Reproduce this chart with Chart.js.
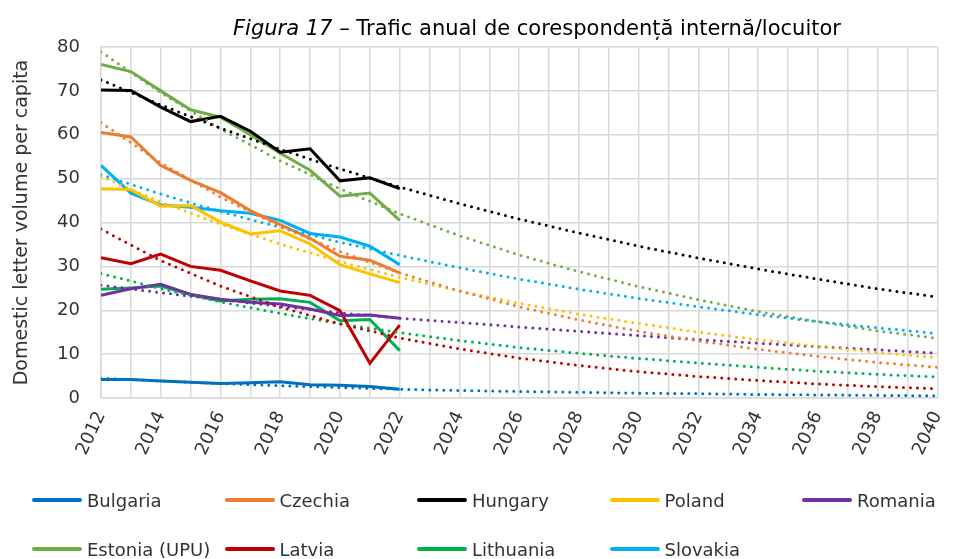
<!DOCTYPE html>
<html>
<head>
<meta charset="utf-8">
<script src="https://cdn.jsdelivr.net/npm/chart.js@4.4.1/dist/chart.umd.min.js"></script>
<style>
    body { margin: 0; background: #fff; }
    #wrap { position: relative; width: 967px; height: 559px; font-family: 'DejaVu Sans', sans-serif; }
    #title { position: absolute; top: 16px; left: 107px; right: 0; text-align: center; font-size: 21px; color: #000; white-space: nowrap; }
    #title i { font-style: italic; }
    #legend { position: absolute; left: 32px; top: 488px; display: grid; grid-template-columns: repeat(5, 192.5px); row-gap: 25px; }
    .item { display: flex; align-items: center; height: 24px; font-size: 18px; color: #333; white-space: nowrap; }
    .item span.swatch { display: inline-block; width: 50px; height: 4px; border-radius: 2px; margin-right: 5px; }
</style>
</head>
<body>
<div id="wrap">
    <canvas id="chart" width="967" height="559"></canvas>
    <div id="title"><i>Figura 17</i> – Trafic anual de corespondență internă/locuitor</div>
    <div id="legend"></div>
</div>
<script>
const years = [2012, 2013, 2014, 2015, 2016, 2017, 2018, 2019, 2020, 2021, 2022];
const trendYears = [2012, 2014, 2016, 2018, 2020, 2022, 2024, 2026, 2028, 2030, 2032, 2034, 2036, 2038, 2040];
const xTickLabels = ['2012', '2014', '2016', '2018', '2020', '2022', '2024', '2026', '2028', '2030', '2032', '2034', '2036', '2038', '2040'];
const yTicks = [0, 10, 20, 30, 40, 50, 60, 70, 80];

const countries = ['Bulgaria', 'Czechia', 'Hungary', 'Poland', 'Romania', 'Estonia (UPU)', 'Latvia', 'Lithuania', 'Slovakia'];
const colors = ['#0070C0', '#ED7D31', '#000000', '#FFC000', '#7030A0', '#70AD47', '#C00000', '#00B050', '#00B0F0'];

const bulgaria  = [4.2, 4.2, 3.9, 3.6, 3.3, 3.5, 3.7, 3.0, 2.9, 2.6, 2.0];
const czechia   = [60.5, 59.5, 53.0, 49.6, 46.8, 42.7, 39.5, 36.4, 32.3, 31.4, 28.5];
const hungary   = [70.2, 70.1, 66.3, 63.0, 64.2, 60.8, 56.0, 56.8, 49.5, 50.2, 47.7];
const poland    = [47.7, 47.5, 43.7, 43.9, 40.1, 37.4, 38.1, 35.1, 30.4, 28.3, 26.3];
const romania   = [23.4, 24.9, 25.9, 23.6, 22.5, 21.8, 21.4, 20.3, 18.8, 18.9, 18.2];
const estonia   = [76.0, 74.4, 70.0, 65.7, 64.0, 60.0, 55.8, 51.9, 46.0, 46.7, 40.5];
const latvia    = [32.0, 30.6, 32.8, 30.0, 29.1, 26.7, 24.4, 23.4, 19.9, 7.9, 16.6];
const lithuania = [24.8, 25.1, 25.5, 23.6, 22.1, 22.5, 22.6, 21.8, 17.6, 17.9, 10.8];
const slovakia  = [53.0, 46.7, 44.0, 43.5, 42.7, 42.1, 40.5, 37.5, 36.7, 34.6, 30.4];

// dotted trend lines, read every two years
const bulgariaTrend  = [4.5, 3.9, 3.3, 2.8, 2.4, 2.0, 1.7, 1.5, 1.3, 1.1, 1.0, 0.8, 0.7, 0.6, 0.5];
const czechiaTrend   = [62.8, 53.6, 45.8, 39.1, 33.4, 28.5, 24.4, 20.8, 17.8, 15.2, 13.0, 11.1, 9.5, 8.1, 7.0];
const hungaryTrend   = [72.5, 66.8, 61.5, 56.7, 52.2, 48.1, 44.3, 40.8, 37.6, 34.6, 31.9, 29.4, 27.1, 24.9, 23.0];
const polandTrend    = [50.5, 44.7, 39.6, 35.1, 31.1, 27.5, 24.4, 21.6, 19.1, 17.0, 15.0, 13.3, 11.8, 10.4, 9.2];
const romaniaTrend   = [25.7, 24.0, 22.4, 20.9, 19.4, 18.2, 17.2, 16.2, 15.2, 14.2, 13.3, 12.5, 11.7, 11.0, 10.2];
const estoniaTrend   = [78.9, 69.6, 61.3, 54.1, 47.7, 42.0, 37.0, 32.6, 28.8, 25.4, 22.4, 19.7, 17.4, 15.3, 13.6];
const latviaTrend    = [38.5, 31.3, 25.5, 20.7, 16.9, 13.7, 11.2, 9.1, 7.4, 6.0, 4.9, 4.0, 3.2, 2.6, 2.1];
const lithuaniaTrend = [28.4, 24.9, 21.9, 19.3, 16.9, 14.9, 13.1, 11.5, 10.2, 9.0, 8.0, 7.0, 6.1, 5.4, 4.8];
const slovakiaTrend  = [50.9, 46.5, 42.5, 38.9, 35.5, 32.5, 29.7, 27.1, 24.8, 22.7, 20.8, 19.0, 17.4, 16.0, 14.7];

const actual = [bulgaria, czechia, hungary, poland, romania, estonia, latvia, lithuania, slovakia];
const trends = [bulgariaTrend, czechiaTrend, hungaryTrend, polandTrend, romaniaTrend, estoniaTrend, latviaTrend, lithuaniaTrend, slovakiaTrend];

const FONT = 'DejaVu Sans';
const GRID = '#d9d9d9';

const datasets = [];
countries.forEach((name, i) => {
    datasets.push({
        label: name,
        data: years.map((x, j) => ({ x, y: actual[i][j] })),
        borderColor: colors[i],
        borderWidth: 3,
        pointRadius: 0,
        fill: false,
        order: 1
    });
    datasets.push({
        label: name + ' trend',
        data: trendYears.map((x, j) => ({ x, y: trends[i][j] })),
        borderColor: colors[i],
        borderWidth: 3,
        borderDash: [0, 7],
        borderCapStyle: 'round',
        pointRadius: 0,
        fill: false,
        order: 0
    });
});

new Chart(document.getElementById('chart'), {
    type: 'line',
    data: { datasets },
    options: {
        responsive: false,
        animation: false,
        layout: { padding: { top: 47, right: 6, bottom: 81, left: 0 } },
        plugins: { legend: { display: false }, title: { display: false }, tooltip: { enabled: false } },
        scales: {
            x: {
                type: 'linear',
                min: 2012,
                max: 2040,
                afterFit: s => { s.height = 80; },
                afterBuildTicks: s => { s.ticks = []; for (let y = 2012; y <= 2040; y++) s.ticks.push({ value: y }); },
                ticks: {
                    autoSkip: false,
                    maxRotation: 65,
                    minRotation: 65,
                    padding: 10,
                    color: '#333',
                    font: { family: FONT, size: 18 },
                    callback: v => xTickLabels.includes(String(v)) ? String(v) : ''
                },
                grid: { color: GRID, lineWidth: 1.5, drawTicks: false },
                border: { color: GRID, width: 1.5 }
            },
            y: {
                min: 0,
                max: 80,
                afterFit: s => { s.width = 101; },
                afterBuildTicks: s => { s.ticks = yTicks.map(v => ({ value: v })); },
                ticks: { padding: 21, color: '#333', font: { family: FONT, size: 18 } },
                grid: { color: GRID, lineWidth: 1.5, drawTicks: false },
                border: { color: GRID, width: 1.5 },
                title: {
                    display: true,
                    text: 'Domestic letter volume per capita',
                    color: '#333',
                    font: { family: FONT, size: 19 },
                    padding: { top: 11, bottom: 0 }
                }
            }
        }
    }
});

// legend laid out in fixed columns like the original
const legend = document.getElementById('legend');
countries.forEach((name, i) => {
    const item = document.createElement('div');
    item.className = 'item';
    item.innerHTML = `<span class="swatch" style="background:${colors[i]}"></span>${name}`;
    legend.appendChild(item);
});
</script>
</body>
</html>
